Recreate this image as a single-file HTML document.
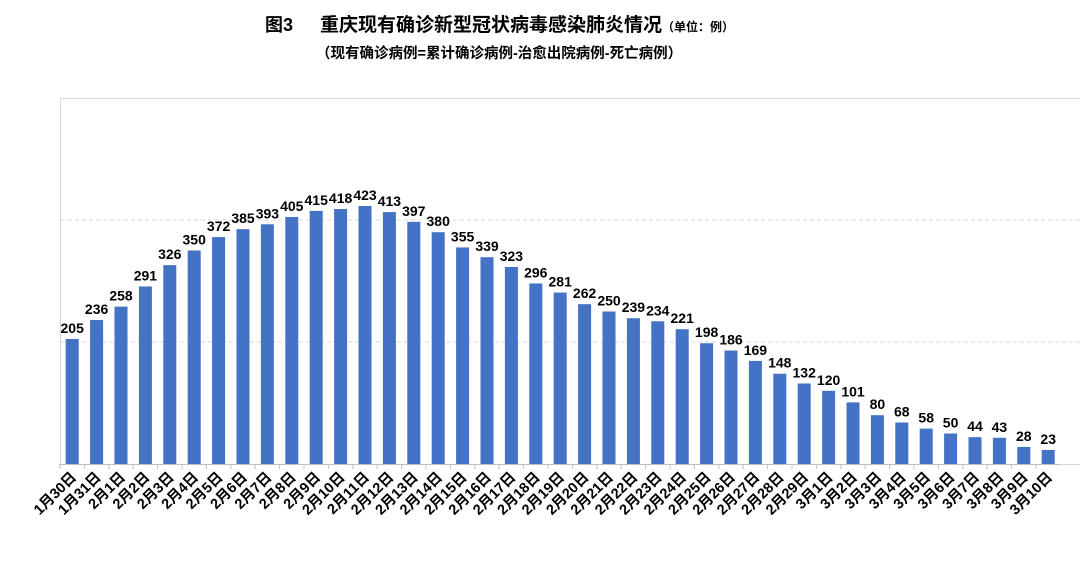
<!DOCTYPE html>
<html><head><meta charset="utf-8"><style>
body{margin:0;background:#fff;}
svg text{font-family:"Liberation Sans","Noto Sans CJK SC",sans-serif;font-weight:bold;}
</style></head><body>
<svg width="1080" height="570">
<text x="265" y="31" font-size="18">图3</text>
<text x="320" y="31" font-size="19">重庆现有确诊新型冠状病毒感染肺炎情况<tspan font-size="12">（单位：例）</tspan></text>
<text x="316" y="58" font-size="14.5">（现有确诊病例=累计确诊病例-治愈出院病例-死亡病例）</text>
<rect x="60.5" y="98.5" width="1024" height="366" fill="none" stroke="#d9d9d9"/>
<g id="grid"></g><g id="bars"></g><g id="labels"></g>
</svg>
<script>
const categories=["1月30日","1月31日","2月1日","2月2日","2月3日","2月4日","2月5日","2月6日","2月7日","2月8日","2月9日","2月10日","2月11日","2月12日","2月13日","2月14日","2月15日","2月16日","2月17日","2月18日","2月19日","2月20日","2月21日","2月22日","2月23日","2月24日","2月25日","2月26日","2月27日","2月28日","2月29日","3月1日","3月2日","3月3日","3月4日","3月5日","3月6日","3月7日","3月8日","3月9日","3月10日"];
const values=[205,236,258,291,326,350,372,385,393,405,415,418,423,413,397,380,355,339,323,296,281,262,250,239,234,221,198,186,169,148,132,120,101,80,68,58,50,44,43,28,23];
const gridValues=[200,400];
const NS="http://www.w3.org/2000/svg";
const x0=60,step=24.4,y0=464,k=0.61;
const xs=i=>x0+step*i+step/2, ys=v=>y0-v*k;
function mk(t,a,p){const e=document.createElementNS(NS,t);for(const n in a)e.setAttribute(n,a[n]);p.appendChild(e);return e;}
const g=document.getElementById('grid'),b=document.getElementById('bars'),l=document.getElementById('labels');
gridValues.forEach(v=>{const e=mk('line',{x1:61,x2:1084,y1:ys(v),y2:ys(v),stroke:'#d9d9d9','stroke-dasharray':'4,3'},g);

});
const ax=mk('line',{x1:60,x2:x0+step*categories.length,y1:y0+0.5,y2:y0+0.5,stroke:'#bfbfbf'},g);


categories.forEach((c,i)=>{
 const t=mk('line',{x1:x0+step*i,x2:x0+step*i,y1:y0,y2:y0+5,stroke:'#bfbfbf'},g);
 
 
 const v=values[i];
 const r=mk('rect',{x:xs(i)-6.5,y:ys(v),width:13,height:v*k,fill:'#4472c4'},b);
 
 
 const vl=mk('text',{x:xs(i),y:ys(v)-6,'font-size':14,'text-anchor':'middle',fill:'#000'},l);
 vl.textContent=v;
 
 
 const cx=xs(i)+5,cy=478;
 const cl=mk('text',{x:cx,y:cy,'font-size':14.5,'text-anchor':'end',transform:`rotate(-45 ${cx} ${cy})`},l);
 cl.textContent=c;
 
 
});
</script>
</body></html>
